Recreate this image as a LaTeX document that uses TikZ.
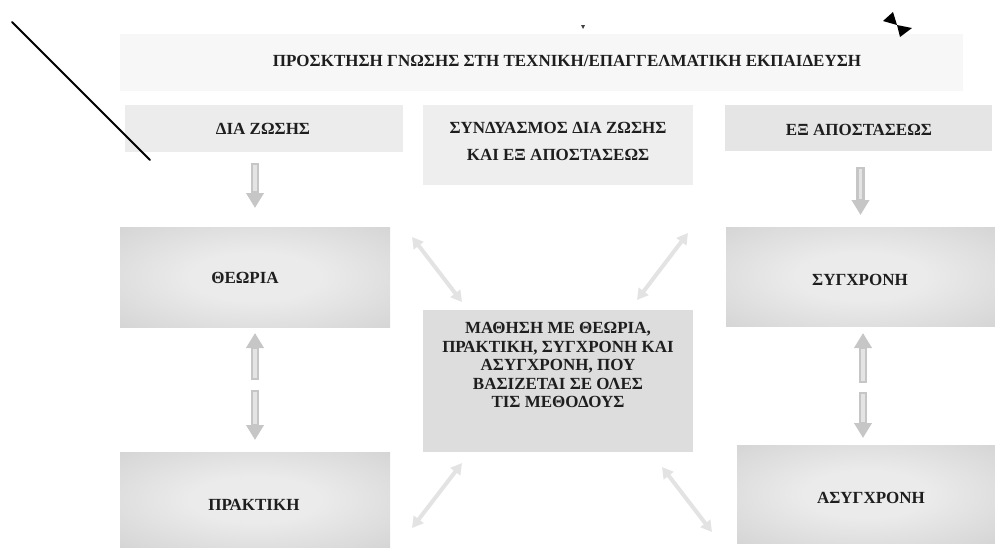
\documentclass[tikz,border=0pt]{standalone}
\usepackage{fontspec}
\setmainfont{Liberation Serif}
\usetikzlibrary{arrows.meta,calc}
\definecolor{titlefill}{HTML}{F7F7F7}
\definecolor{topfill}{HTML}{ECECEC}
\definecolor{combofill}{HTML}{EEEEEE}
\definecolor{rightfill}{HTML}{E5E5E5}
\definecolor{midfill}{HTML}{DDDDDD}
\definecolor{glowin}{HTML}{EBEBEB}
\definecolor{glowout}{HTML}{C0C0C0}
\definecolor{blockcol}{HTML}{C6C6C6}
\definecolor{blocklight}{HTML}{E4E4E4}
\definecolor{diagcol}{HTML}{E3E3E3}
\definecolor{inkcol}{HTML}{1E1E1E}
\pgfdeclareradialshading{boxglow}{\pgfpoint{0bp}{0bp}}{color(0bp)=(glowin); color(12bp)=(glowin); color(58bp)=(glowout); color(90bp)=(glowout)}
\begin{document}
\begin{tikzpicture}[x=1pt,y=-1pt,
  panel/.style={draw=none, inner sep=0pt, outer sep=0pt},
  glowpanel/.style={panel, shading=boxglow},
  label/.style={inner sep=0pt, outer sep=0pt, text=inkcol, font=\bfseries\fontsize{17}{19}\selectfont, text height=11.5pt, text depth=0pt},
  mlabel/.style={inner sep=0pt, outer sep=0pt, text=inkcol, align=center, anchor=north},
  blockarrow/.style={draw=blockcol, line width=8.5pt, -{Triangle[width=17pt,length=15pt]}},
  blockshine/.style={draw=blocklight, line width=3.5pt},
  diagarrow/.style={draw=diagcol, line width=4pt, {Triangle[width=12pt,length=11pt]}-{Triangle[width=12pt,length=11pt]}}
]
\useasboundingbox (0,0) rectangle (995,547);

% boxes
\node[panel, fill=titlefill, minimum width=843pt, minimum height=57pt] (titlebox) at (541.5,62.5) {};
\node[panel, fill=topfill, minimum width=278pt, minimum height=47pt] (dia) at (264,128.5) {};
\node[panel, fill=combofill, minimum width=270pt, minimum height=80pt] (combo) at (558,145) {};
\node[panel, fill=rightfill, minimum width=267pt, minimum height=46pt] (exap) at (858.5,128) {};
\node[glowpanel, minimum width=270pt, minimum height=100pt] (theoria) at (255,277) {};
\node[glowpanel, minimum width=270pt, minimum height=95pt] (praktiki) at (255,499.5) {};
\node[panel, fill=midfill, minimum width=270pt, minimum height=142pt] (mid) at (558,381) {};
\node[glowpanel, minimum width=269pt, minimum height=99pt] (synchroni) at (860.5,276.5) {};
\node[glowpanel, minimum width=258pt, minimum height=98pt] (asynchroni) at (866,494) {};

% texts
\node[label] (titletext) at (567,61) {ΠΡΟΣΚΤΗΣΗ ΓΝΩΣΗΣ ΣΤΗ ΤΕΧΝΙΚΗ/ΕΠΑΓΓΕΛΜΑΤΙΚΗ ΕΚΠΑΙΔΕΥΣΗ};
\node[label] (diatext) at (263,129) {ΔΙΑ ΖΩΣΗΣ};
\node[mlabel, font=\bfseries\fontsize{17}{27.5}\selectfont] (combotext) at (558,122) {ΣΥΝΔΥΑΣΜΟΣ ΔΙΑ ΖΩΣΗΣ\\ΚΑΙ ΕΞ ΑΠΟΣΤΑΣΕΩΣ};
\node[label] (exaptext) at (859,129.5) {ΕΞ ΑΠΟΣΤΑΣΕΩΣ};
\node[label] (theoriatext) at (245,278) {ΘΕΩΡΙΑ};
\node[label] (praktikitext) at (254,505) {ΠΡΑΚΤΙΚΗ};
\node[mlabel, font=\bfseries\fontsize{17}{18.5}\selectfont] (midtext) at (558,322.5) {ΜΑΘΗΣΗ ΜΕ ΘΕΩΡΙΑ,\\ΠΡΑΚΤΙΚΗ, ΣΥΓΧΡΟΝΗ ΚΑΙ\\ΑΣΥΓΧΡΟΝΗ, ΠΟΥ\\ΒΑΣΙΖΕΤΑΙ ΣΕ ΟΛΕΣ\\ΤΙΣ ΜΕΘΟΔΟΥΣ};
\node[label] (synchronitext) at (860,280) {ΣΥΓΧΡΟΝΗ};
\node[label] (asynchronitext) at (871,498) {ΑΣΥΓΧΡΟΝΗ};

% vertical block arrows
\draw[blockarrow, shorten <=11pt, shorten >=19pt] (theoria.north |- dia.south) -- (theoria.north);
\draw[blockshine, shorten <=13pt, shorten >=36pt] (theoria.north |- dia.south) -- (theoria.north);
\coordinate (tpmid) at (255,385);
\draw[blockarrow, shorten <=5pt, shorten >=6pt] (tpmid) -- (theoria.south);
\draw[blockshine, shorten <=7pt, shorten >=22pt] (tpmid) -- (theoria.south);
\draw[blockarrow, shorten <=5pt, shorten >=12pt] (tpmid) -- (praktiki.north);
\draw[blockshine, shorten <=7pt, shorten >=28pt] (tpmid) -- (praktiki.north);
\draw[blockarrow, shorten <=16pt, shorten >=12pt] (synchroni.north |- exap.south) -- (synchroni.north);
\draw[blockshine, shorten <=18pt, shorten >=28pt] (synchroni.north |- exap.south) -- (synchroni.north);
\coordinate (samid) at (863,387);
\draw[blockarrow, shorten <=4pt, shorten >=7pt] (samid) -- (samid |- synchroni.south);
\draw[blockshine, shorten <=6pt, shorten >=23pt] (samid) -- (samid |- synchroni.south);
\draw[blockarrow, shorten <=5pt, shorten >=7pt] (samid) -- (samid |- asynchroni.north);
\draw[blockshine, shorten <=7pt, shorten >=23pt] (samid) -- (samid |- asynchroni.north);

% diagonal double arrows
\draw[diagarrow] ($(mid.north west)+(39,-8)$) -- ($(theoria.north east)+(22,10)$);
\draw[diagarrow] ($(mid.north east)+(-56,-10)$) -- ($(synchroni.north west)+(-38,6)$);
\draw[diagarrow] ($(mid.south west)+(39,11)$) -- ($(praktiki.north east)+(22,76)$);
\draw[diagarrow] ($(mid.south east)+(-31,15)$) -- ($(asynchroni.north west)+(-25,87)$);

% stray marks (on top)
\draw[line width=2pt, line cap=round] (12,22) -- (150,160);
\fill (883,21) -- (893,12) -- (897,25) -- cycle;
\fill (897,25) -- (912,28) -- (900,37) -- cycle;
\fill[black!75] (581,25) -- (585,25) -- (583,29) -- cycle;
\end{tikzpicture}
\end{document}
